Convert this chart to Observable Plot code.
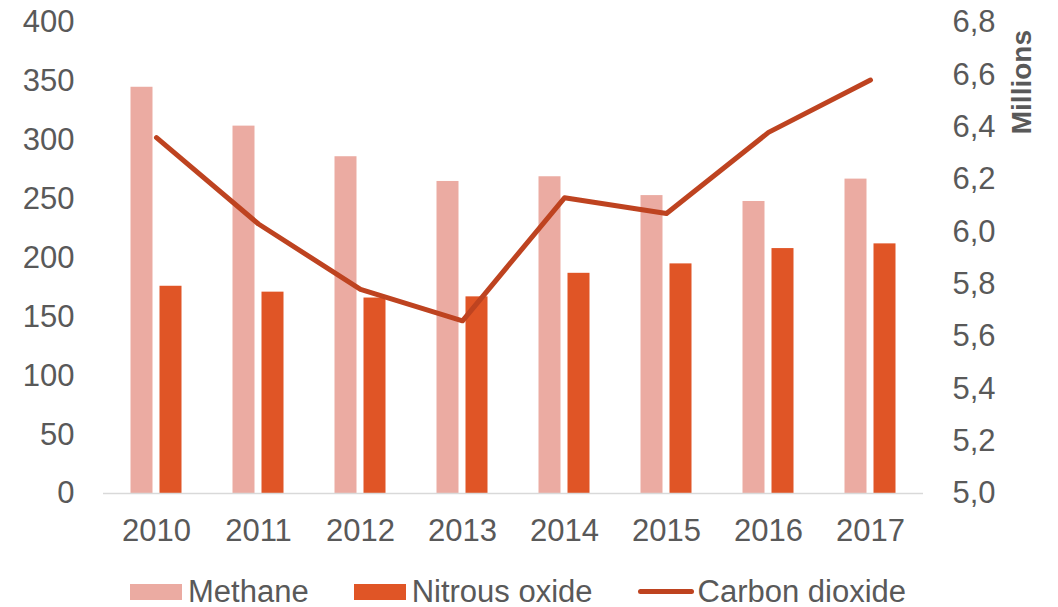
<!DOCTYPE html>
<html>
<head>
<meta charset="utf-8">
<script src="https://cdn.jsdelivr.net/npm/d3@7"></script>
<script src="https://cdn.jsdelivr.net/npm/@observablehq/plot@0.6"></script>
<style>
  html, body { margin: 0; padding: 0; background: #fff; }
  body { width: 1058px; height: 607px; overflow: hidden; font-family: "Liberation Sans", Arial, sans-serif; }
  #chart svg { display: block; }
  .legend { display: flex; align-items: center; height: 47px; padding-left: 130px; padding-top: 16px; box-sizing: border-box; font-size: 31px; color: #595959; }
  .legend .item { display: flex; align-items: center; margin-right: 45px; }
  .legend .sw { width: 52px; height: 16px; margin-right: 6px; }
  .legend .ln { width: 56px; height: 5px; border-radius: 3px; margin-right: 4px; }
</style>
</head>
<body>
<div id="chart"></div>
<script>
const years = ["2010", "2011", "2012", "2013", "2014", "2015", "2016", "2017"];
const methane = [345, 312, 286, 265, 269, 253, 248, 267];
const nitrousOxide = [176, 171, 166, 167, 187, 195, 208, 212];
const carbonDioxide = [6.36, 6.03, 5.78, 5.66, 6.13, 6.07, 6.38, 6.58]; // millions
const leftTicks = [0, 50, 100, 150, 200, 250, 300, 350, 400];
const rightTicks = [5.0, 5.2, 5.4, 5.6, 5.8, 6.0, 6.2, 6.4, 6.6, 6.8];
const seriesNames = ["Methane", "Nitrous oxide", "Carbon dioxide"];
const colors = ["#EBABA2", "#E05526", "#BE4320"];

// map right axis domain [5.0, 6.8] onto left [0, 400]
const r0 = 5.0, r1 = 6.8, l1 = 400;
const toLeft = v => (v - r0) / (r1 - r0) * l1;

const barsM = years.map((y, i) => ({year: y, value: methane[i]}));
const barsN = years.map((y, i) => ({year: y, value: nitrousOxide[i]}));
const lineC = years.map((y, i) => ({year: y, value: toLeft(carbonDioxide[i])}));

const textColor = "#595959";
const chart = Plot.plot({
  width: 1058,
  height: 560,
  marginLeft: 103,
  marginRight: 135,
  marginTop: 22,
  marginBottom: 67,
  style: {fontFamily: "'Liberation Sans', Arial, sans-serif", fontSize: "31px", color: textColor, background: "#fff"},
  x: {type: "band", domain: years, padding: 0, label: null},
  y: {domain: [0, 400], label: null},
  marks: [
    Plot.barY(barsM, {x: "year", y: "value", fill: colors[0], insetLeft: 25.5, insetRight: 54.5}),
    Plot.barY(barsN, {x: "year", y: "value", fill: colors[1], insetLeft: 54.5, insetRight: 25.5}),
    Plot.ruleY([0], {stroke: "#D9D9D9", strokeWidth: 1.5}),
    Plot.line(lineC, {x: "year", y: "value", stroke: colors[2], strokeWidth: 5, strokeLinecap: "round", strokeLinejoin: "round"}),
    Plot.axisY(leftTicks, {anchor: "left", tickSize: 0, tickPadding: 29, label: null, fill: textColor, fontSize: 31}),
    Plot.axisY(rightTicks.map(toLeft), {anchor: "right", tickSize: 0, tickPadding: 29, label: null, fill: textColor, fontSize: 31,
      tickFormat: d => (r0 + d / l1 * (r1 - r0)).toFixed(1).replace(".", ",")}),
    Plot.axisX({anchor: "bottom", tickSize: 0, tickPadding: 25, label: null, fill: textColor, fontSize: 31}),
    Plot.text(["Millions"], {frameAnchor: "right", dx: 99, dy: -228, rotate: -90, fill: textColor, fontSize: 28, fontWeight: "bold"})
  ]
});
document.getElementById("chart").appendChild(chart);

const legend = document.createElement("div");
legend.className = "legend";
seriesNames.forEach((name, i) => {
  const item = document.createElement("div");
  item.className = "item";
  const sw = document.createElement("span");
  sw.className = i < 2 ? "sw" : "ln";
  sw.style.background = colors[i];
  const t = document.createElement("span");
  t.textContent = name;
  item.appendChild(sw);
  item.appendChild(t);
  legend.appendChild(item);
});
document.body.appendChild(legend);
</script>
</body>
</html>
